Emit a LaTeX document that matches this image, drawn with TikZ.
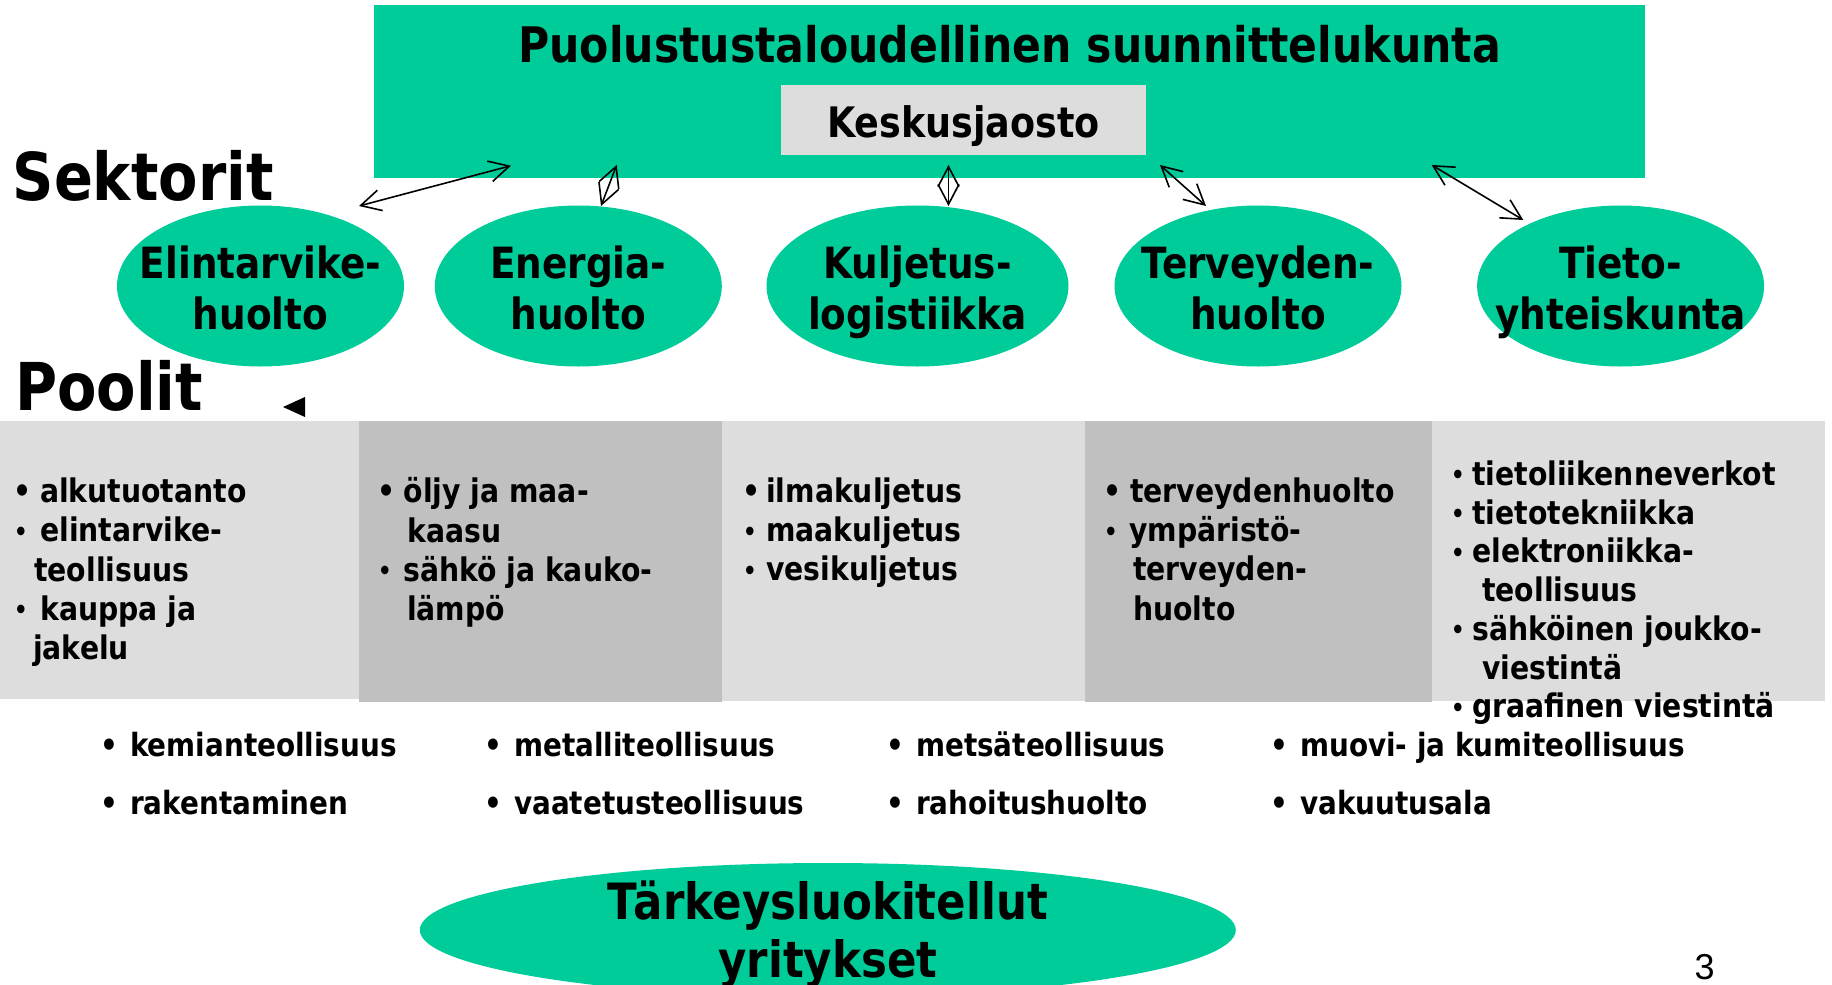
\documentclass[tikz,border=0pt]{standalone}
\usepackage{graphicx}
\usepackage{fontspec}
\setmainfont{DejaVu Sans}[FakeStretch=0.87]
\newfontfamily\arialfont{Liberation Sans}
\usetikzlibrary{arrows.meta,shapes.geometric}

\definecolor{sektorigreen}{HTML}{00CC99}
\definecolor{poollight}{HTML}{DDDDDD}
\definecolor{pooldark}{HTML}{C0C0C0}

\newcommand{\fs}[2]{\fontsize{#1}{#2}\selectfont\bfseries}
\newcommand{\bigdot}[1][25pt]{\makebox[#1][l]{•}}
\newcommand{\smalldot}[1][25pt]{\makebox[#1][l]{\hspace{1pt}\raisebox{1.5pt}{\scalebox{.75}{•}}}}

\begin{document}
\begin{tikzpicture}[x=1pt,y=-1pt,
	sector/.style={ellipse,fill=sektorigreen,minimum width=287pt,minimum height=161pt,inner sep=0pt},
	sectortext/.style={align=center,font=\fs{43}{51},yshift=-6pt,execute at end node=\vphantom{y}},
	link/.style={>={Straight Barb[length=20pt,width=21pt]},<->,line width=1.6pt},
	head/.style={anchor=base west,inner sep=0pt,font=\fs{66}{70}},
	pooltext/.style={anchor=north west,align=left,inner sep=0pt,font=\fs{32.5}{39.4}},
	item/.style={anchor=base west,inner sep=0pt,font=\fs{32}{36}}]
	\useasboundingbox (0,0) rectangle (1832,985);
	% suunnittelukunta
	\node[fill=sektorigreen,minimum width=1271pt,minimum height=173pt,inner sep=0pt] (psk) at (1009.5,91.5) {};
	\node[anchor=base,font=\fs{49}{55}] (otsikko) at (1009.5,62) {Puolustustaloudellinen suunnittelukunta};
	\node[fill=poollight,minimum width=365pt,minimum height=70pt,text height=40pt,text depth=6pt,font=\fs{42}{48}] (keskus) at (963.5,120) {Keskusjaosto};
	\node[head] (sektorit) at (12.5,200) {Sektorit};
	\node[head] (poolit) at (15,410) {Poolit};
	\fill (283,407) -- (305,397) -- (305,417) -- cycle;
	% sektorit
	\node[sector] (elin) at (260.5,286) {};
	\node[sector] (ener) at (578.3,286) {};
	\node[sector,minimum width=302pt] (kulj) at (917.5,286) {};
	\node[sector] (terv) at (1258,286) {};
	\node[sector] (tieto) at (1620.6,286) {};
	\node[sectortext] (elintxt) at (elin) {Elintarvike-\\huolto};
	\node[sectortext] (enertxt) at (ener) {Energia-\\huolto};
	\node[sectortext] (kuljtxt) at (kulj) {Kuljetus-\\logistiikka};
	\node[sectortext] (tervtxt) at (terv) {Terveyden-\\huolto};
	\node[sectortext] (tietotxt) at (tieto) {Tieto-\\yhteiskunta};
	% nuolet
	\coordinate (s1) at (359,206);    \coordinate (k1) at (511,165.7);
	\coordinate (s2) at (601,206);    \coordinate (k2) at (616.7,165);
	\coordinate (s3) at (948.5,206);  \coordinate (k3) at (948.5,165);
	\coordinate (s4) at (1206,206);   \coordinate (k4) at (1160,165);
	\coordinate (s5) at (1523.3,220); \coordinate (k5) at (1431.7,165);
	\foreach \i in {1,...,5}{
		\draw[link] (s\i) -- (k\i);
	}
	% poolit
	\fill[poollight] (0,421) rectangle (359,699);
	\fill[pooldark] (359,421) rectangle (722,702);
	\fill[poollight] (722,421) rectangle (1085,701);
	\fill[pooldark] (1085,421) rectangle (1432,702);
	\fill[poollight] (1432,421) rectangle (1825,701);
	\node[pooltext] (pool1) at (13,477.3) {\bigdot[27pt]alkutuotanto\\\smalldot[27pt]elintarvike-\\\hspace*{21pt}teollisuus\\\smalldot[27pt]kauppa ja\\\hspace*{20pt}jakelu};
	\node[pooltext] (pool2) at (377,477.3) {\bigdot[26.5pt]öljy ja maa-\\\hspace*{30pt}kaasu\\\smalldot[26pt]sähkö ja kauko-\\\hspace*{30pt}lämpö};
	\node[pooltext] (pool3) at (742,477.3) {\bigdot[24pt]ilmakuljetus\\\smalldot[24pt]maakuljetus\\\smalldot[24pt]vesikuljetus};
	\node[pooltext] (pool4) at (1103,477.3) {\bigdot[27pt]terveydenhuolto\\\smalldot[26pt]ympäristö-\\\hspace*{30pt}terveyden-\\\hspace*{30pt}huolto};
	\node[pooltext,font=\fs{32.5}{38.8}] (pool5) at (1450,460.3) {\smalldot[22pt]tietoliikenneverkot\\\smalldot[22pt]tietotekniikka\\\smalldot[22pt]elektroniikka-\\\hspace*{32pt}teollisuus\\\smalldot[22pt]sähköinen joukko-\\\hspace*{32pt}viestintä\\\smalldot[22pt]graafinen viestintä};
	% tarkeysluokitellut
	\foreach \x/\a/\b [count=\i] in {100/kemianteollisuus/rakentaminen,484/metalliteollisuus/vaatetusteollisuus,886/metsäteollisuus/rahoitushuolto,1270/muovi- ja kumiteollisuus/vakuutusala}{
		\node[item] (yr\i a) at (\x,756) {\bigdot[30pt]\a};
		\node[item] (yr\i b) at (\x,814) {\bigdot[30pt]\b};
	}
	\node[ellipse,fill=sektorigreen,minimum width=816pt,minimum height=134pt,inner sep=0pt] (tarkeys) at (827.8,930) {};
	\node[align=center,font=\fs{50}{58}] (tarkeystxt) at (tarkeys) [yshift=-5pt] {Tärkeysluokitellut\\yritykset};
	\node[anchor=base,font=\arialfont\fontsize{36}{40}\selectfont] (sivu) at (1704.5,979) {3};
\end{tikzpicture}
\end{document}
